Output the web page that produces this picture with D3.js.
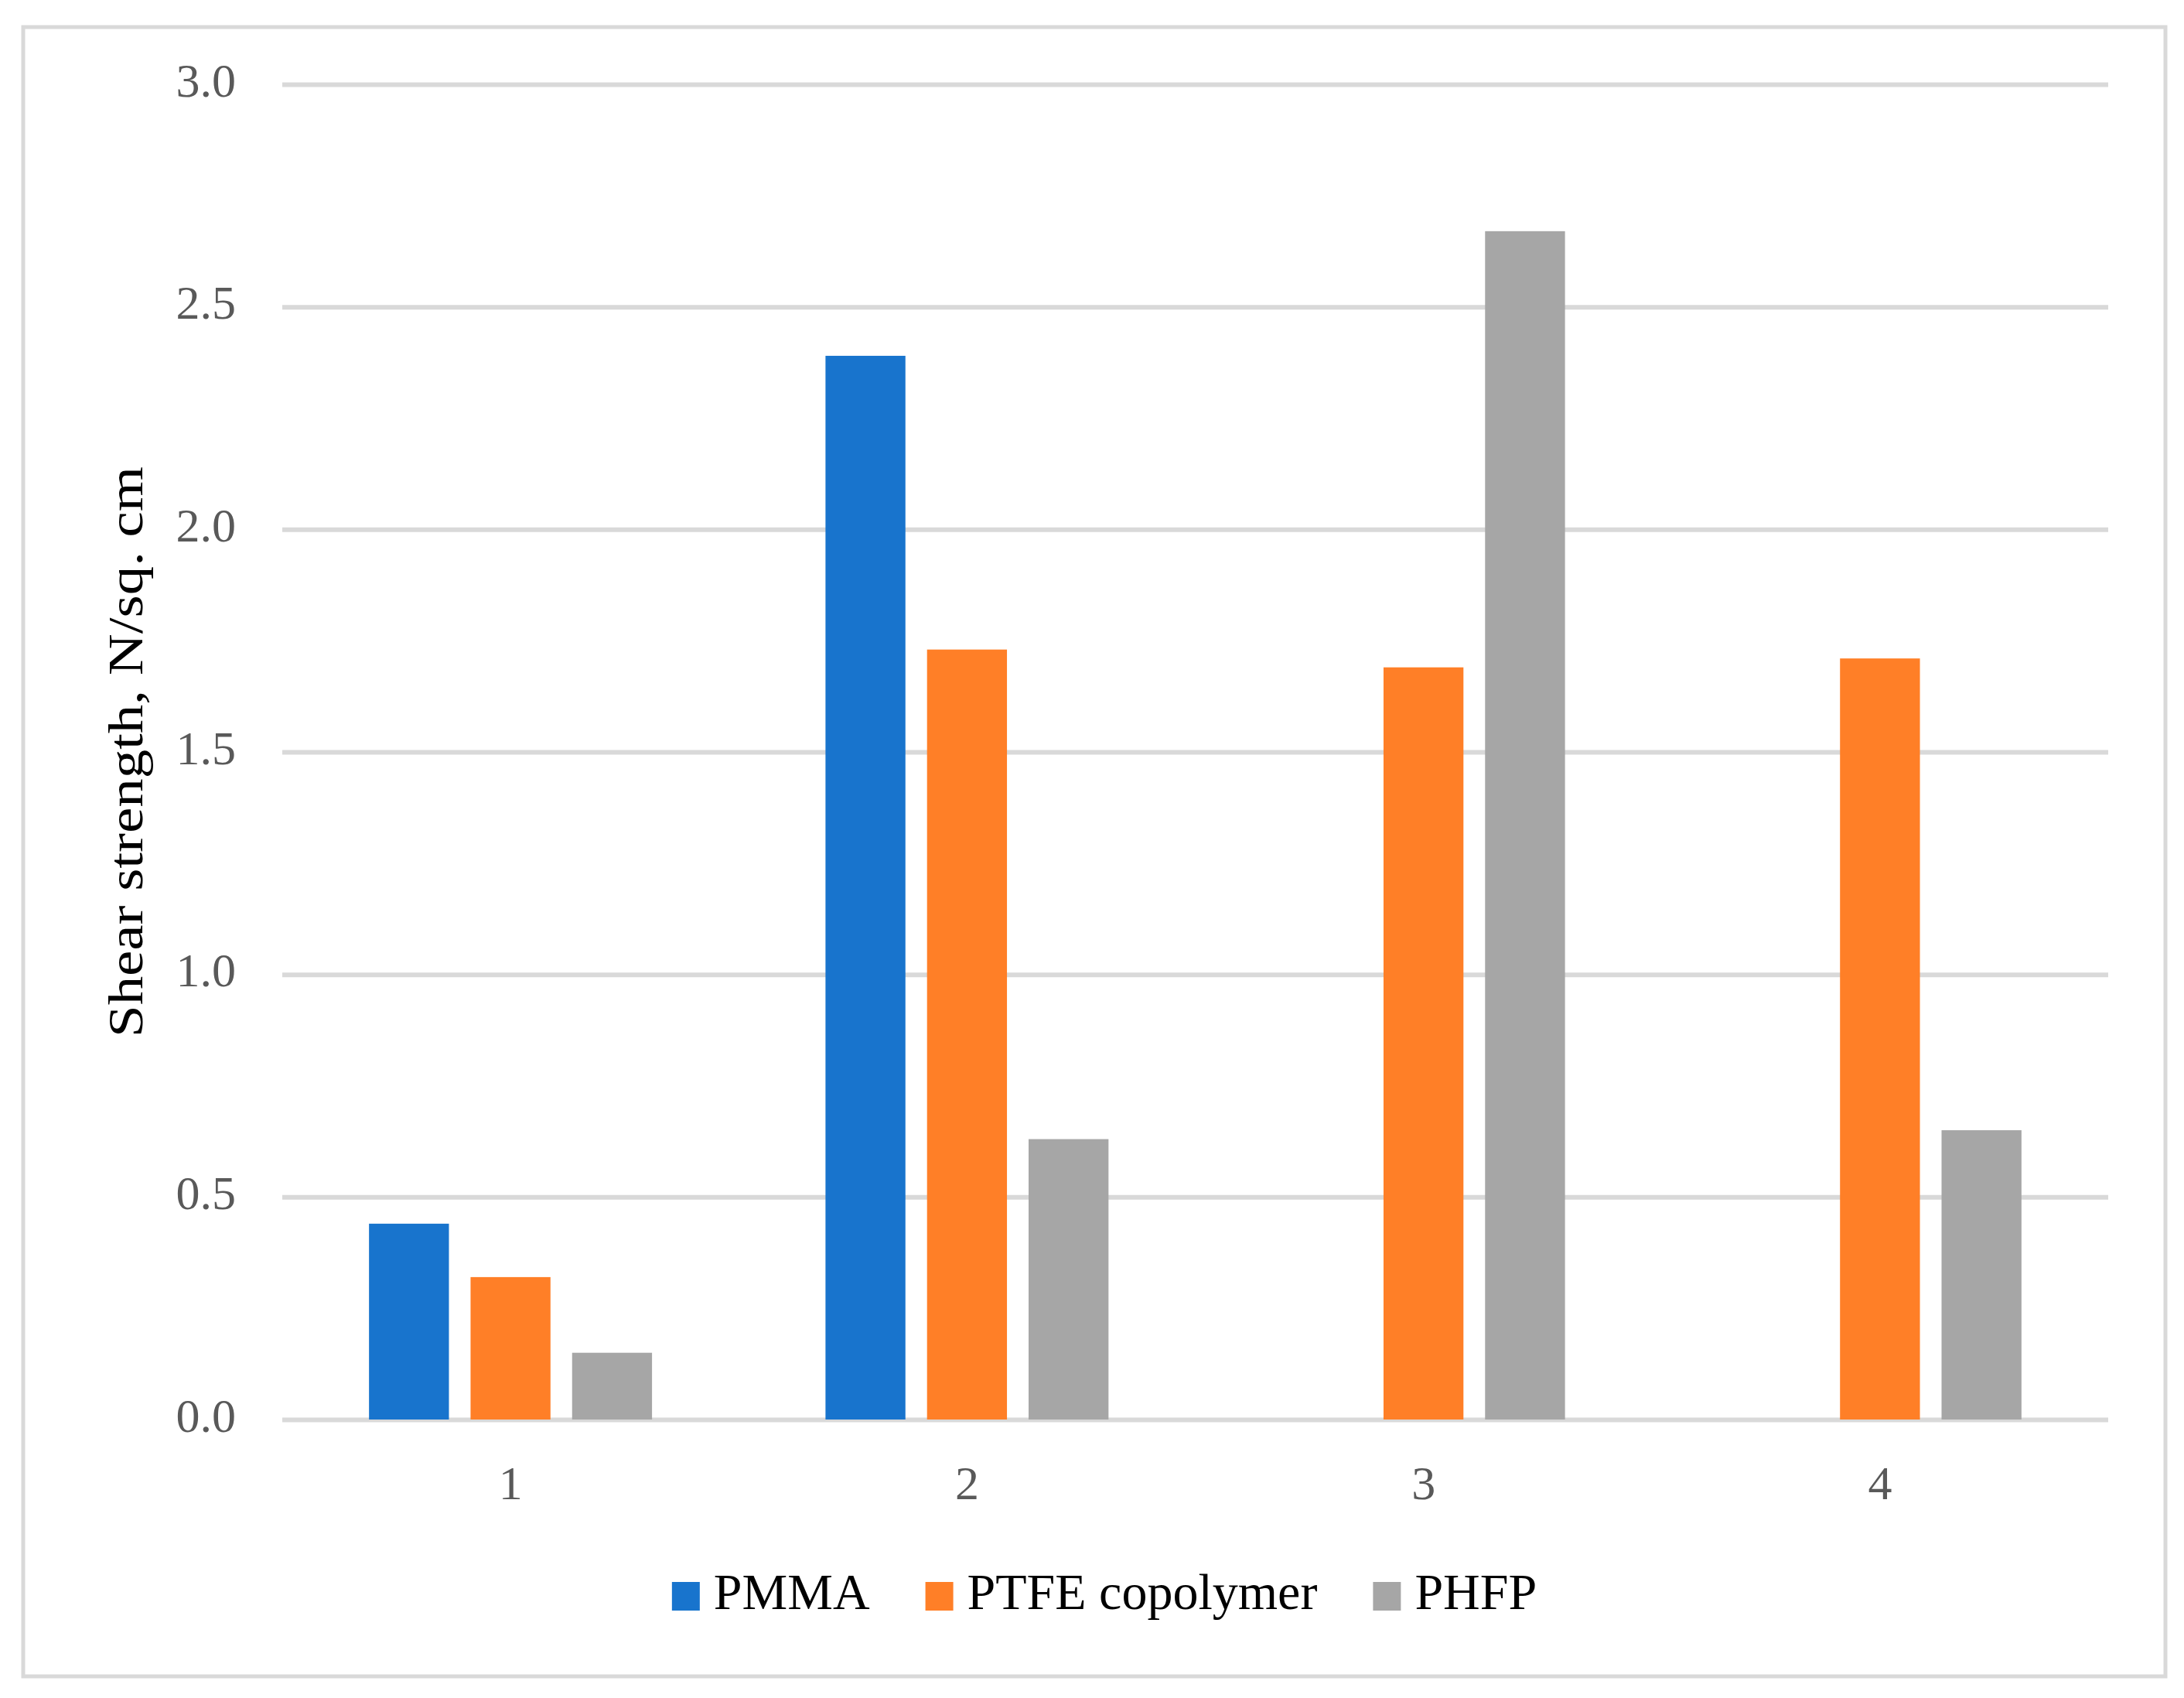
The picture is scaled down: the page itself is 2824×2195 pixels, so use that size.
<!DOCTYPE html>
<html>
<head>
<meta charset="utf-8">
<script src="https://cdn.jsdelivr.net/npm/d3@7"></script>
<style>
  html, body { margin: 0; padding: 0; background: #ffffff; }
  svg { display: block; }
</style>
</head>
<body>
<svg id="chart" width="2824" height="2195"></svg>
<script>
// ---- Data ----
const categories = ["1", "2", "3", "4"];
const seriesNames = ["PMMA", "PTFE copolymer", "PHFP"];
const pmmaValues = [0.44, 2.39, 0, 0];
const ptfeValues = [0.32, 1.73, 1.69, 1.71];
const phfpValues = [0.15, 0.63, 2.67, 0.65];
const yTicks = [0, 0.5, 1.0, 1.5, 2.0, 2.5, 3.0];
const yTitle = "Shear strength, N/sq. cm";
const seriesColors = ["#1874CD", "#FF7F27", "#A6A6A6"];

const seriesValues = [pmmaValues, ptfeValues, phfpValues];
const rows = categories.map((c, i) => ({
  cat: c,
  vals: seriesNames.map((s, j) => ({ key: s, value: seriesValues[j][i], color: seriesColors[j] }))
}));

// ---- Layout ----
const svg = d3.select("#chart");
const W = 2824, H = 2195;
const plot = { left: 365, right: 2726, top: 109, bottom: 1835 };
const FONT = "'Liberation Serif', 'Times New Roman', serif";

svg.append("rect").attr("x", 0).attr("y", 0).attr("width", W).attr("height", H).attr("fill", "#ffffff");
// chart border
svg.append("rect")
  .attr("x", 30).attr("y", 35).attr("width", 2770).attr("height", 2132)
  .attr("fill", "none").attr("stroke", "#d9d9d9").attr("stroke-width", 5);

const y = d3.scaleLinear().domain([0, 3]).range([plot.bottom, plot.top]);
const x0 = d3.scaleBand().domain(categories).range([plot.left, plot.right]).padding(0);
const bw0 = x0.bandwidth();
const x1 = d3.scaleBand().domain(seriesNames)
  .range([bw0 * 0.19, bw0 * 0.81]).paddingInner(0.213).paddingOuter(0);

// gridlines
const grid = d3.axisLeft(y).tickValues(yTicks).tickSize(-(plot.right - plot.left)).tickFormat("");
const gg = svg.append("g").attr("transform", `translate(${plot.left},0)`).call(grid);
gg.select(".domain").remove();
gg.selectAll(".tick line").attr("stroke", "#d9d9d9").attr("stroke-width", 6);

// y tick labels
const yAxis = d3.axisLeft(y).tickValues(yTicks).tickSize(0).tickPadding(0).tickFormat(d3.format(".1f"));
const ya = svg.append("g").attr("transform", `translate(305,0)`).call(yAxis);
ya.select(".domain").remove();
ya.selectAll(".tick text")
  .attr("font-family", FONT).attr("font-size", 62).attr("fill", "#595959")
  .attr("text-anchor", "end").attr("dy", null).attr("dominant-baseline", null)
  .attr("y", 15).attr("x", 0);

// bars
const groups = svg.append("g").selectAll("g.grp").data(rows).join("g")
  .attr("class", "grp")
  .attr("transform", d => `translate(${x0(d.cat)},0)`);
groups.selectAll("rect").data(d => d.vals.filter(v => v.value > 0)).join("rect")
  .attr("x", d => x1(d.key))
  .attr("width", x1.bandwidth())
  .attr("y", d => y(d.value))
  .attr("height", d => y(0) - y(d.value))
  .attr("fill", d => d.color);

// x axis labels
const xAxis = d3.axisBottom(x0).tickSize(0).tickPadding(0);
const xa = svg.append("g").attr("transform", `translate(0,0)`).call(xAxis);
xa.select(".domain").remove();
xa.selectAll(".tick text")
  .attr("font-family", FONT).attr("font-size", 62).attr("fill", "#595959")
  .attr("dy", null).attr("y", 1938);

// y title
svg.append("text")
  .attr("transform", `translate(184,972) rotate(-90)`)
  .attr("text-anchor", "middle")
  .attr("font-family", FONT).attr("font-size", 64).attr("fill", "#000000")
  .attr("textLength", 738).attr("lengthAdjust", "spacingAndGlyphs")
  .text(yTitle);

// legend
const legend = svg.append("g");
const items = legend.selectAll("g").data(seriesNames).join("g");
items.append("rect").attr("width", 36).attr("height", 37).attr("y", 2045)
  .attr("fill", (d, i) => seriesColors[i]);
items.append("text")
  .attr("font-family", FONT).attr("font-size", 66).attr("fill", "#000000")
  .attr("y", 2080).text(d => d);
const widths = [];
items.select("text").each(function () { widths.push(this.getComputedTextLength()); });
const markerToText = 54, gap = 72;
let total = 0;
widths.forEach((w, i) => { total += markerToText + w + (i < widths.length - 1 ? gap : 0); });
let cx = 1428 - total / 2;
items.each(function (d, i) {
  const g = d3.select(this);
  g.select("rect").attr("x", cx);
  g.select("text").attr("x", cx + markerToText);
  cx += markerToText + widths[i] + gap;
});
</script>
</body>
</html>
